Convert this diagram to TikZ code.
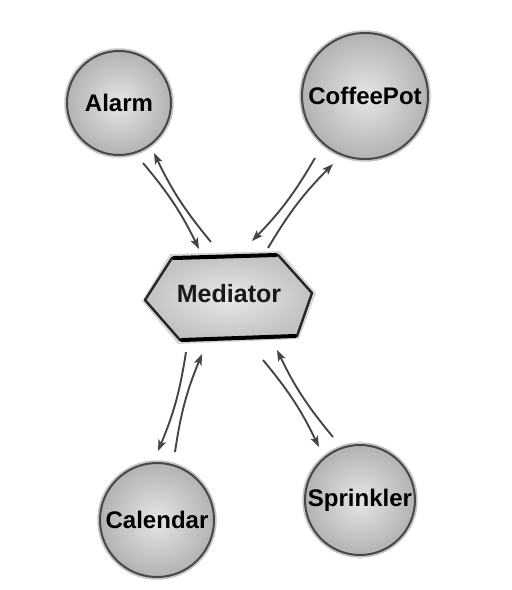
\documentclass[tikz,border=0pt]{standalone}
\usepackage{fontspec}
\setmainfont{Liberation Sans}
\usetikzlibrary{arrows.meta,calc}
\definecolor{rim}{HTML}{484848}
\definecolor{halo}{HTML}{C4C4C4}
\definecolor{arrowgray}{HTML}{454545}
\tikzset{
  ball/.style={circle, inner sep=0pt, minimum size=#1, draw=rim, line width=2pt,
    inner color=gray!20, outer color=gray!60,
    font=\fontsize{24}{26}\selectfont\bfseries, text=black,
    preaction={draw=halo, line width=5.5pt}},
  link/.style={draw=arrowgray, line width=1.9pt,
    -{Stealth[length=11pt,width=8pt,inset=2.5pt]}},
  medtext/.style={font=\fontsize{25}{27}\selectfont\bfseries, text=black!90, inner sep=0pt}
}
\begin{document}
\begin{tikzpicture}[x=1pt,y=-1pt]
  \useasboundingbox (0,0) rectangle (512,590);

  % participants
  \node[ball=104pt] (alarm)     at (119,103) {Alarm};
  \node[ball=126pt] (coffee)    at (365,96)  {CoffeePot};
  \node[ball=114pt] (calendar)  at (157,520) {Calendar};
  \node[ball=110pt] (sprinkler) at (360,500) {Sprinkler};

  % central mediator hexagon
  \fill[halo!70] (142,301) -- (170,254) -- (280,251) -- (316,293) -- (299,339) -- (178,344) -- cycle;
  \shade[inner color=gray!18, outer color=gray!48]
    (145,300) -- (172,258) -- (278,255) -- (312,293) -- (297,336) -- (180,340) -- cycle;
  \draw[line width=2.4pt, line join=round, black!85]
    (145,300) -- (172,258) -- (278,255) -- (312,293) -- (297,336) -- (180,340) -- cycle;
  \draw[line width=4pt, black, line cap=round] (174,258) -- (276,255);
  \draw[line width=4pt, black, line cap=round] (182,340) -- (295,336);
  \node[medtext] (med) at (229,294) {Mediator};

  % message paths
  \draw[link] ($(alarm)+(24,60)$)      to[bend left=7]  ($(med)+(-30,-45)$);
  \draw[link] ($(med)+(-18,-52)$)      to[bend left=7]  ($(alarm)+(35,50)$);
  \draw[link] ($(coffee)+(-50,62)$)    to[bend left=7]  ($(med)+(23,-53)$);
  \draw[link] ($(med)+(39,-46)$)       to[bend left=7]  ($(coffee)+(-32,68)$);
  \draw[link] ($(med)+(-43,58)$)       to[bend left=7]  ($(calendar)+(1,-69)$);
  \draw[link] ($(calendar)+(18,-68)$)  to[bend left=7]  ($(med)+(-27,60)$);
  \draw[link] ($(med)+(34,66)$)        to[bend left=7]  ($(sprinkler)+(-41,-53)$);
  \draw[link] ($(sprinkler)+(-27,-63)$) to[bend left=7] ($(med)+(48,56)$);
\end{tikzpicture}
\end{document}
